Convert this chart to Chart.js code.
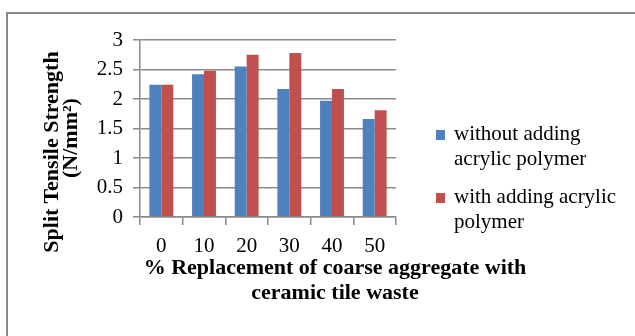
<!DOCTYPE html>
<html>
<head>
<meta charset="utf-8">
<script src="https://cdn.jsdelivr.net/npm/chart.js@4"></script>
<style>
  html, body { margin: 0; padding: 0; background: #fff; }
  #wrap { position: relative; width: 635px; height: 336px; overflow: hidden; font-family: 'Liberation Serif', serif; color: #000; }
  #frame { position: absolute; left: 6px; top: 12px; width: 700px; height: 400px; border-left: 2px solid #8a8a8a; border-top: 2px solid #8a8a8a; }
  canvas { position: absolute; left: 0; top: 0; }
  .ytitle { position: absolute; width: 260px; height: 22px; line-height: 22px; text-align: center; white-space: nowrap; font-weight: bold; font-size: 22px; transform: rotate(-90deg); }
  #xtitle { position: absolute; left: 135px; width: 400px; top: 254px; line-height: 25px; text-align: center; white-space: nowrap; font-weight: bold; font-size: 22px; }
  .leg { position: absolute; left: 436px; font-size: 21px; line-height: 24.5px; }
  .leg i { position: absolute; left: 0; top: 9px; width: 9px; height: 10px; }
  .leg span { display: block; margin-left: 18px; }
</style>
</head>
<body>
<div id="wrap">
  <div id="frame"></div>
  <canvas id="c" width="635" height="336"></canvas>
  <div class="ytitle" style="left:-79px; top:141px;">Split Tensile Strength</div>
  <div class="ytitle" style="left:-60px; top:127px;">(N/mm²)</div>
  <div id="xtitle">% Replacement of coarse aggregate with<br>ceramic tile waste</div>
  <div id="legend"></div>
</div>
<script>
const categories = ['0', '10', '20', '30', '40', '50'];
const withoutPolymer = [2.24, 2.42, 2.55, 2.17, 1.97, 1.66];
const withPolymer = [2.24, 2.48, 2.75, 2.78, 2.17, 1.81];
const seriesNames = [['without adding', 'acrylic polymer'], ['with adding acrylic', 'polymer']];
const seriesColors = ['#4f81bd', '#c0504d'];

const gridGray = '#8a8a8a';

// legend as html (two-line labels)
const legendTops = [121, 184];
document.getElementById('legend').innerHTML = seriesNames.map((lines, i) =>
  `<div class="leg" style="top:${legendTops[i]}px"><i style="background:${seriesColors[i]}"></i><span>${lines.join('<br>')}</span></div>`
).join('');

Chart.defaults.font.family = "'Liberation Serif', serif";
Chart.defaults.color = '#000';

new Chart(document.getElementById('c').getContext('2d'), {
  type: 'bar',
  data: {
    labels: categories,
    datasets: [
      { label: seriesNames[0].join(' '), data: withoutPolymer, backgroundColor: seriesColors[0] },
      { label: seriesNames[1].join(' '), data: withPolymer, backgroundColor: seriesColors[1] }
    ]
  },
  options: {
    responsive: false, animation: false, devicePixelRatio: 1,
    layout: { padding: { left: 0, top: 40, right: 239, bottom: 0 } },
    datasets: { bar: { categoryPercentage: 0.56, barPercentage: 1 } },
    plugins: { legend: { display: false }, tooltip: { enabled: false } },
    scales: {
      x: {
        afterFit: s => { s.height = 119; },
        grid: { drawOnChartArea: false, color: gridGray, lineWidth: 1.5, tickLength: 8 },
        border: { color: gridGray, width: 1.5 },
        ticks: { font: { size: 21 }, padding: 9 }
      },
      y: {
        min: 0, max: 3,
        afterFit: s => { s.width = 140; },
        grid: { color: gridGray, lineWidth: 1.5, tickLength: 7 },
        border: { color: gridGray, width: 1.5 },
        ticks: { stepSize: 0.5, font: { size: 21 }, padding: 10, callback: v => String(v) }
      }
    }
  }
});
</script>
</body>
</html>
